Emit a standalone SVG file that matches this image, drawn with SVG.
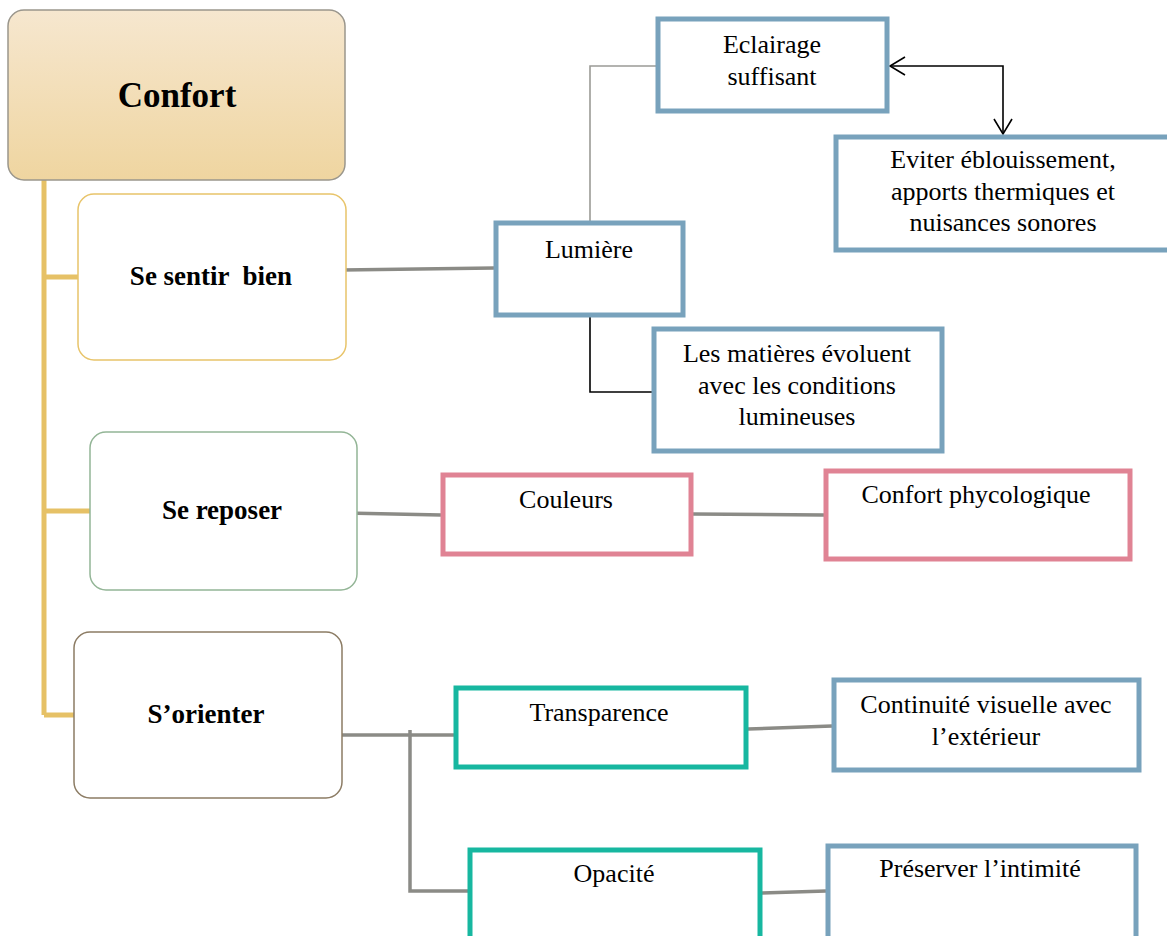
<svg xmlns="http://www.w3.org/2000/svg" width="1167" height="936" viewBox="0 0 1167 936">
  <defs>
    <linearGradient id="rootFill" x1="0" y1="0" x2="0" y2="1">
      <stop offset="0" stop-color="#f6e7cf"/>
      <stop offset="1" stop-color="#efd5a0"/>
    </linearGradient>
  </defs>
  <style>
    text { font-family: "Liberation Serif", "Times New Roman", serif; fill: #000; text-anchor: middle; }
    .t { font-size: 26px; }
    .b { font-size: 27px; font-weight: bold; }
    .root { font-size: 35px; font-weight: bold; }
    .blue { fill: #fff; stroke: #78a2bc; stroke-width: 5; }
    .pink { fill: #fff; stroke: #e08394; stroke-width: 5; }
    .teal { fill: #fff; stroke: #17b7a0; stroke-width: 5; }
    .trunk { fill: none; stroke: #e6c166; stroke-width: 5; }
    .link { fill: none; stroke: #8b8b86; stroke-width: 3.5; }
    .thin { fill: none; stroke: #000; stroke-width: 1.6; }
  </style>
  <rect width="1167" height="936" fill="#fff"/>

  <!-- connectors -->
  <g id="connectors">
    <path class="trunk" d="M44,180 V715 M44,277 H78 M44,511 H90 M44,715 H75"/>
    <path class="link" d="M342,270 L494,268"/>
    <path fill="none" stroke="#9b9b96" stroke-width="1.6" d="M590,222 V66 H656"/>
    <path class="thin" d="M590,316 V392 H652"/>
    <!-- two-way link between lighting and glare boxes -->
    <path class="thin" d="M890,66 H1003 V134"/>
    <path class="thin" d="M905,57 L890,66 L905,75"/>
    <path class="thin" d="M994,119 L1003,134 L1012,119"/>
    <path class="link" d="M345,513 L441,515"/>
    <path class="link" d="M692,514 L824,515"/>
    <path class="link" d="M342,735 H458"/>
    <path class="link" d="M410,730 V891 H470"/>
    <path class="link" d="M748,729 L832,726"/>
    <path class="link" d="M762,893 L826,891"/>
  </g>

  <g id="confort">
    <rect x="8" y="10" width="337" height="170" rx="16" fill="url(#rootFill)" stroke="#9a968c" stroke-width="1.5"/>
    <text class="root" x="177" y="107">Confort</text>
  </g>

  <g id="se-sentir-bien">
    <rect x="78" y="194" width="268" height="166" rx="16" fill="#fff" stroke="#e8c46a" stroke-width="1.5"/>
    <text class="b" x="211" y="285" xml:space="preserve">Se sentir  bien</text>
  </g>

  <g id="se-reposer">
    <rect x="90" y="432" width="267" height="158" rx="16" fill="#fff" stroke="#93b596" stroke-width="1.5"/>
    <text class="b" x="222" y="519">Se reposer</text>
  </g>

  <g id="s-orienter">
    <rect x="74" y="632" width="268" height="166" rx="16" fill="#fff" stroke="#8c7c64" stroke-width="1.5"/>
    <text class="b" x="206" y="723">S’orienter</text>
  </g>

  <g id="lumiere">
    <rect class="blue" x="496" y="223" width="187" height="92"/>
    <text class="t" x="589" y="258">Lumière</text>
  </g>

  <g id="eclairage">
    <rect class="blue" x="658" y="19" width="229" height="92"/>
    <text class="t" x="772" y="53">Eclairage</text>
    <text class="t" x="772" y="85">suffisant</text>
  </g>

  <g id="eviter">
    <rect class="blue" x="836" y="137" width="340" height="113"/>
    <text class="t" x="1003" y="168">Eviter éblouissement,</text>
    <text class="t" x="1003" y="200">apports thermiques et</text>
    <text class="t" x="1003" y="231">nuisances sonores</text>
  </g>

  <g id="matieres">
    <rect class="blue" x="654" y="329" width="288" height="122"/>
    <text class="t" x="797" y="362">Les matières évoluent</text>
    <text class="t" x="797" y="394">avec les conditions</text>
    <text class="t" x="797" y="425">lumineuses</text>
  </g>

  <g id="couleurs">
    <rect class="pink" x="443" y="475" width="248" height="79"/>
    <text class="t" x="566" y="508">Couleurs</text>
  </g>

  <g id="confort-psy">
    <rect class="pink" x="826" y="471" width="304" height="88"/>
    <text class="t" x="976" y="503">Confort phycologique</text>
  </g>

  <g id="transparence">
    <rect class="teal" x="456" y="688" width="290" height="79"/>
    <text class="t" x="599" y="721">Transparence</text>
  </g>

  <g id="continuite">
    <rect class="blue" x="834" y="680" width="305" height="90"/>
    <text class="t" x="986" y="713">Continuité visuelle avec</text>
    <text class="t" x="986" y="745">l’extérieur</text>
  </g>

  <g id="opacite">
    <rect class="teal" x="470" y="850" width="290" height="100"/>
    <text class="t" x="614" y="882">Opacité</text>
  </g>

  <g id="preserver">
    <rect class="blue" x="828" y="846" width="308" height="104"/>
    <text class="t" x="980" y="877">Préserver l’intimité</text>
  </g>
</svg>
